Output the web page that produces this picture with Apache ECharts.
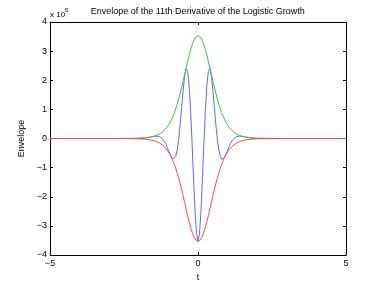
<!DOCTYPE html>
<html>
<head>
<meta charset="utf-8">
<script src="https://cdn.jsdelivr.net/npm/echarts@6/dist/echarts.min.js"></script>
<style>
html,body{margin:0;padding:0;background:#fff;}
#chart{width:382px;height:287px;}
</style>
</head>
<body>
<div id="chart"></div>
<script>
// time samples (t)
var tValues = [-5, -4, -3, -2.5, -2, -1.8, -1.6, -1.5, -1.4, -1.3, -1.2, -1.15, -1.1, -1.05, -1, -0.95, -0.9, -0.85, -0.825, -0.8, -0.75, -0.7, -0.65, -0.6, -0.55, -0.5, -0.45, -0.4, -0.35, -0.3, -0.25, -0.2, -0.15, -0.1, -0.05,
  0, 0.05, 0.1, 0.15, 0.2, 0.25, 0.3, 0.35, 0.4, 0.45, 0.5, 0.55, 0.6, 0.65, 0.7, 0.75, 0.8, 0.825, 0.85, 0.9, 0.95, 1, 1.05, 1.1, 1.15, 1.2, 1.3, 1.4, 1.5, 1.6, 1.8, 2, 2.5, 3, 4, 5];
// 11th derivative (x 10^5)
var derivative = [0, 0, 0, -0.0016, 0.0015, 0.016, 0.049, 0.070, 0.082, 0.066, -0.006, -0.072, -0.161, -0.272, -0.399, -0.529, -0.644, -0.715, -0.728, -0.716, -0.610, -0.373, 0.006, 0.512, 1.099, 1.684, 2.157, 2.400, 2.308, 1.825, 0.967, -0.164, -1.392, -2.496, -3.263,
  -3.538, -3.263, -2.496, -1.392, -0.164, 0.967, 1.825, 2.308, 2.400, 2.157, 1.684, 1.099, 0.512, 0.006, -0.373, -0.610, -0.716, -0.728, -0.715, -0.644, -0.529, -0.399, -0.272, -0.161, -0.072, -0.006, 0.066, 0.082, 0.070, 0.049, 0.016, 0.0015, -0.0016, 0, 0, 0];
// upper envelope (x 10^5)
var upperEnv = [0, 0, 0, 0.002, 0.011, 0.023, 0.049, 0.072, 0.106, 0.155, 0.224, 0.269, 0.323, 0.386, 0.459, 0.545, 0.644, 0.758, 0.820, 0.887, 1.032, 1.193, 1.371, 1.563, 1.768, 1.983, 2.204, 2.427, 2.645, 2.854, 3.045, 3.213, 3.351, 3.453, 3.517,
  3.538, 3.517, 3.453, 3.351, 3.213, 3.045, 2.854, 2.645, 2.427, 2.204, 1.983, 1.768, 1.563, 1.371, 1.193, 1.032, 0.887, 0.820, 0.758, 0.644, 0.545, 0.459, 0.386, 0.323, 0.269, 0.224, 0.155, 0.106, 0.072, 0.049, 0.023, 0.011, 0.002, 0, 0, 0];
// lower envelope (x 10^5)
var lowerEnv = [0, 0, 0, -0.002, -0.011, -0.023, -0.049, -0.072, -0.106, -0.155, -0.224, -0.269, -0.323, -0.386, -0.459, -0.545, -0.644, -0.758, -0.820, -0.887, -1.032, -1.193, -1.371, -1.563, -1.768, -1.983, -2.204, -2.427, -2.645, -2.854, -3.045, -3.213, -3.351, -3.453, -3.517,
  -3.538, -3.517, -3.453, -3.351, -3.213, -3.045, -2.854, -2.645, -2.427, -2.204, -1.983, -1.768, -1.563, -1.371, -1.193, -1.032, -0.887, -0.820, -0.758, -0.644, -0.545, -0.459, -0.386, -0.323, -0.269, -0.224, -0.155, -0.106, -0.072, -0.049, -0.023, -0.011, -0.002, 0, 0, 0];

var titleText = 'Envelope of the 11th Derivative of the Logistic Growth';
var xName = 't';
var yName = 'Envelope';
var FONT = '"Liberation Sans", Arial, Helvetica, sans-serif';

function pairs(ys){ return tValues.map(function(t,i){ return [t, ys[i]]; }); }
function fmt(v){ return String(v).replace('-', '\u2212'); }

var chart = echarts.init(document.getElementById('chart'), null, {renderer:'canvas'});
var axisCommon = {
  type:'value',
  axisLine:{show:true, onZero:false, lineStyle:{color:'#000', width:1}},
  axisTick:{show:true, inside:true, length:3, lineStyle:{color:'#000'}},
  splitLine:{show:false}
};
chart.setOption({
  animation:false,
  backgroundColor:'#fff',
  textStyle:{fontFamily:FONT},
  grid:{left:50, right:36, top:22, bottom:32, containLabel:false},
  xAxis:[
    Object.assign({}, axisCommon, {position:'bottom', min:-5, max:5, interval:5,
      axisLabel:{show:true, color:'#000', fontSize:9, fontFamily:FONT, margin:4, formatter:fmt},
      name:xName, nameLocation:'middle', nameGap:12, nameTextStyle:{color:'#000', fontSize:9, fontFamily:FONT}}),
    Object.assign({}, axisCommon, {position:'top', min:-5, max:5, interval:5, axisLabel:{show:false}})
  ],
  yAxis:[
    Object.assign({}, axisCommon, {position:'left', min:-4, max:4, interval:1,
      axisLabel:{show:true, color:'#000', fontSize:9, fontFamily:FONT, margin:3, formatter:fmt},
      name:yName, nameLocation:'middle', nameRotate:90, nameGap:15, nameTextStyle:{color:'#000', fontSize:9, fontFamily:FONT}}),
    Object.assign({}, axisCommon, {position:'right', min:-4, max:4, interval:1, axisLabel:{show:false}})
  ],
  graphic:[
    {type:'text', x:197.7, y:11.5, style:{text:titleText, font:'9px '+FONT, fill:'#000', textAlign:'center', textVerticalAlign:'middle'}},
    {type:'text', x:50, y:14.5, style:{text:'x 10', font:'8px '+FONT, fill:'#000', textAlign:'left', textVerticalAlign:'middle'}},
    {type:'text', x:65, y:10, style:{text:'5', font:'6px '+FONT, fill:'#000', textAlign:'left', textVerticalAlign:'middle'}}
  ],
  series:[
    {type:'line', data:pairs(derivative), showSymbol:false, symbol:'none', lineStyle:{color:'#5a6cff', width:1}, itemStyle:{color:'#5a6cff'}},
    {type:'line', data:pairs(upperEnv), showSymbol:false, symbol:'none', lineStyle:{color:'#44bb44', width:1}, itemStyle:{color:'#44bb44'}},
    {type:'line', data:pairs(lowerEnv), showSymbol:false, symbol:'none', lineStyle:{color:'#ff4a4a', width:1}, itemStyle:{color:'#ff4a4a'}}
  ]
});
</script>
</body>
</html>
